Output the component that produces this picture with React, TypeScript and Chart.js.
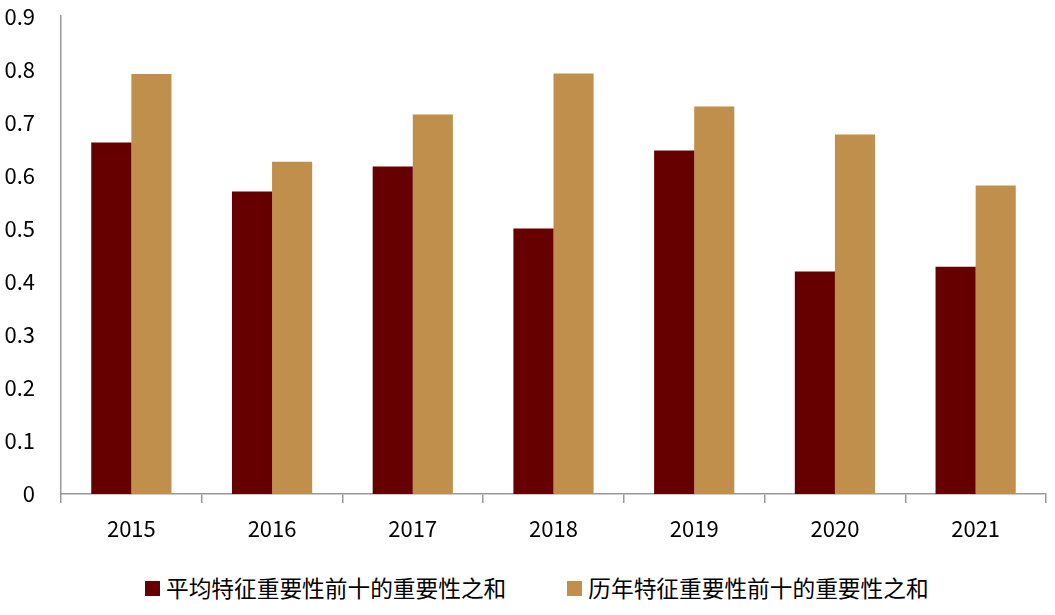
import React, { useEffect, useRef } from "react";
import { Chart, registerables } from "chart.js";

Chart.register(...registerables);

const categories = ["2015", "2016", "2017", "2018", "2019", "2020", "2021"];
const avgSeriesName = "平均特征重要性前十的重要性之和";
const histSeriesName = "历年特征重要性前十的重要性之和";
const avgValues = [0.662, 0.57, 0.617, 0.5, 0.647, 0.419, 0.428];
const histValues = [0.791, 0.626, 0.715, 0.792, 0.73, 0.677, 0.581];
const yTickLabels = ["0", "0.1", "0.2", "0.3", "0.4", "0.5", "0.6", "0.7", "0.8", "0.9"];

const DARK = "#660000";
const GOLD = "#BF8F4B";
const AXIS = "#999999";
const FONT = "'Noto Sans CJK SC', 'Noto Sans', sans-serif";

export default function App() {
  const ref = useRef<HTMLCanvasElement>(null);

  useEffect(() => {
    if (!ref.current) return;
    const chart = new Chart(ref.current, {
      type: "bar",
      data: {
        labels: categories,
        datasets: [
          { label: avgSeriesName, data: avgValues, backgroundColor: DARK, categoryPercentage: 0.57, barPercentage: 1 },
          { label: histSeriesName, data: histValues, backgroundColor: GOLD, categoryPercentage: 0.57, barPercentage: 1 },
        ],
      },
      options: {
        animation: false,
        responsive: false,
        maintainAspectRatio: false,
        layout: { padding: { top: 0, right: 9, left: 0, bottom: 0 } },
        plugins: { legend: { display: false }, tooltip: { enabled: false } },
        scales: {
          x: {
            offset: true,
            grid: { display: true, drawOnChartArea: false, drawTicks: true, tickLength: 9, color: AXIS, lineWidth: 1.5 },
            border: { display: true, color: AXIS, width: 1.5 },
            ticks: { color: "#000", font: { family: FONT, size: 22 }, padding: 12, maxRotation: 0 },
            afterFit: (s: any) => { s.height = 66; },
          },
          y: {
            min: 0,
            max: 0.9,
            grid: { display: false, drawTicks: false },
            border: { display: true, color: AXIS, width: 1.5 },
            ticks: {
              stepSize: 0.1,
              color: "#000",
              font: { family: FONT, size: 22 },
              padding: 26,
              callback: (_v: any, i: number) => yTickLabels[i],
            },
            afterFit: (s: any) => { s.width = 61; },
          },
        },
      },
    });
    return () => chart.destroy();
  }, []);

  const legendItem = (color: string, text: string, ml: number) => (
    <div style={{ display: "flex", alignItems: "center", marginLeft: ml }}>
      <div style={{ width: 15, height: 15, background: color, marginRight: 6 }} />
      <span style={{ fontFamily: FONT, fontSize: 22.7, color: "#000", lineHeight: "30px", whiteSpace: "nowrap" }}>{text}</span>
    </div>
  );

  return (
    <div style={{ position: "fixed", left: 0, top: 0, width: 1055, height: 615, background: "#fff", overflow: "hidden" }}>
      <canvas ref={ref} width={1055} height={583} style={{ display: "block", position: "absolute", left: 0, top: -23 }} />
      <div style={{ position: "absolute", left: 145, top: 573, display: "flex", alignItems: "center" }}>
        {legendItem(DARK, avgSeriesName, 0)}
        {legendItem(GOLD, histSeriesName, 61)}
      </div>
    </div>
  );
}
